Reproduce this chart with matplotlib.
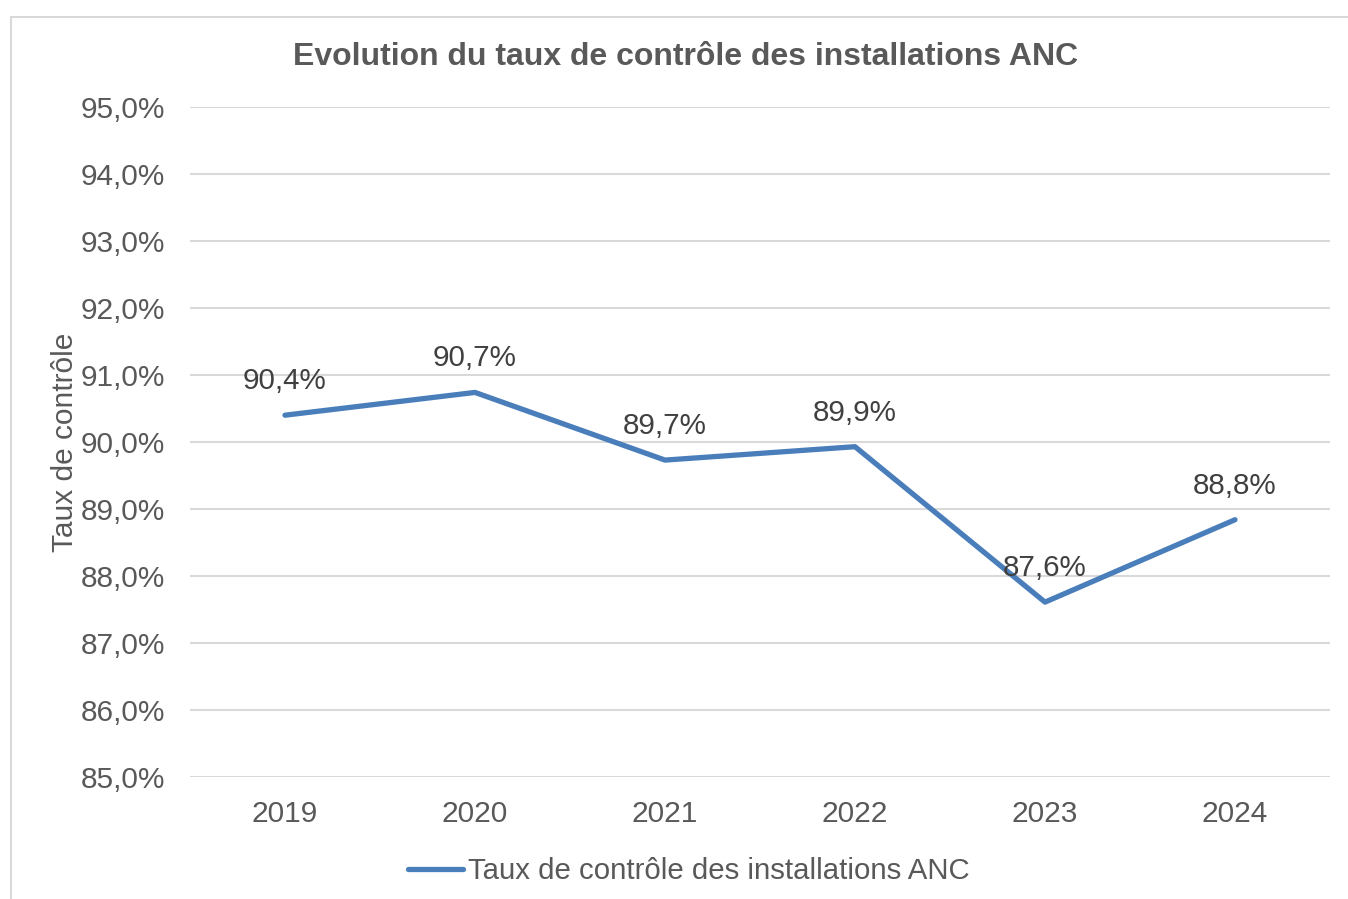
import matplotlib.pyplot as plt
from matplotlib.patches import Rectangle
from matplotlib.ticker import FuncFormatter

plt.rcParams['font.family'] = ['Liberation Sans', 'DejaVu Sans']

years = ["2019", "2020", "2021", "2022", "2023", "2024"]
taux = [90.40, 90.74, 89.73, 89.93, 87.61, 88.84]
yticks = [85, 86, 87, 88, 89, 90, 91, 92, 93, 94, 95]

grey = "#595959"
blue = "#4A7EBB"

fig = plt.figure(figsize=(13.48, 8.99), dpi=100)
ax = fig.add_axes([190 / 1348, 1 - 777 / 899, 1140 / 1348, 670 / 899])

# chart frame (only left/top edges visible in the original crop)
fig.patches.append(Rectangle((11 / 1348, -0.05), 1.1, 1 - 17 / 899 + 0.05,
                             transform=fig.transFigure, fill=False,
                             edgecolor="#D9D9D9", linewidth=1.5))

x = range(len(years))
ax.plot(x, taux, color=blue, linewidth=3.8, solid_capstyle="round",
        label="Taux de contrôle des installations ANC")

for i, v in zip(x, taux):
    ax.annotate(f"{v:.1f}%".replace(".", ","), (i, v), xytext=(0, 24.5),
                textcoords="offset points", ha="center", va="center",
                fontsize=21.3, color="#404040")

ax.set_xlim(-0.5, len(years) - 0.5)
ax.set_ylim(85, 95)
ax.set_xticks(list(x))
ax.set_xticklabels(years)
ax.set_yticks(yticks)
ax.yaxis.set_major_formatter(FuncFormatter(lambda v, p: f"{v:.1f}%".replace(".", ",")))
ax.tick_params(axis="both", length=0, labelsize=21.5, colors=grey)
ax.tick_params(axis="x", pad=16.5)
ax.tick_params(axis="y", pad=18)
ax.grid(axis="y", color="#D9D9D9", linewidth=1.5)
ax.set_axisbelow(True)
for s in ax.spines.values():
    s.set_visible(False)

ax.set_ylabel("Taux de contrôle", fontsize=21.5, color=grey)
ax.yaxis.set_label_coords(-0.097, 0.50)

fig.text(686 / 1348, 1 - 57 / 899, "Evolution du taux de contrôle des installations ANC",
         ha="center", va="center", fontsize=23, fontweight="bold", color=grey)

fig.legend(loc="center", bbox_to_anchor=(689 / 1348, 1 - 871 / 899), frameon=False,
           fontsize=21.2, labelcolor=grey, handlelength=1.85, handletextpad=0.17)

fig.savefig("out.png", dpi=100)
